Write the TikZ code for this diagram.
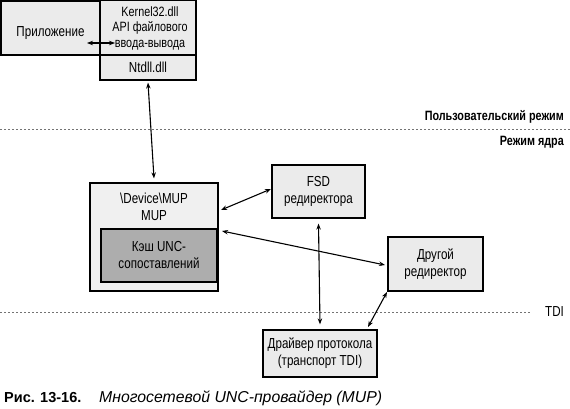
\documentclass[tikz,border=0pt]{standalone}
\usepackage{fontspec}
\setmainfont{Liberation Sans}
\newfontfamily\cond[FakeStretch=0.8]{Liberation Sans}
\usetikzlibrary{arrows.meta}
\tikzset{
  box/.style={draw=black, line width=1.2pt, fill=black!8, inner sep=0pt, align=center,
    font=\cond\fontsize{14.5}{17}\selectfont},
  darkbox/.style={box, fill=black!32},
  txt/.style={inner sep=0pt, align=center, font=\cond\fontsize{14.5}{17}\selectfont},
  modetxt/.style={inner sep=0pt, anchor=east, font=\cond\bfseries\fontsize{13.5}{15}\selectfont},
  conn/.style={line width=1.1pt, {Stealth[length=6pt,width=4.5pt]}-{Stealth[length=6pt,width=4.5pt]}},
  sep/.style={draw=black!55, line width=0.8pt, dash pattern=on 2pt off 2pt}
}
\begin{document}
\begin{tikzpicture}[x=1pt,y=-1pt]
\useasboundingbox (0,0) rectangle (570,409);
% top boxes
\node[box, minimum width=99, minimum height=54] (app) at (50.5,28) {};
\node[txt] (apptxt) at (50.5,33) {Приложение};
\node[box, minimum width=96, minimum height=55] (kern) at (148,27.5) {};
\node[txt, font=\cond\fontsize{13.5}{15.5}\selectfont] (kerntxt) at (150,28) {Kernel32.dll\\API файлового\\ввода-вывода};
\node[box, minimum width=96, minimum height=25] (ntdll) at (148,67.5) {Ntdll.dll};
\coordinate (a1) at (87,43);
\coordinate (a2) at (115,43);
\draw[conn] (a1) -- (a2);
% mode separator
\coordinate (s1) at (0,129);
\coordinate (s2) at (570,129);
\draw[sep] (s1) -- (s2);
\node[modetxt] (user) at (564,117) {Пользовательский режим};
\node[modetxt] (kernel) at (564,142) {Режим ядра};
% MUP
\node[box, fill=black!6, minimum width=128, minimum height=108] (mup) at (154,237) {};
\node[txt] (muptxt) at (154,207) {\textbackslash Device\textbackslash MUP\\MUP};
\node[darkbox, minimum width=116, minimum height=53] (cache) at (159,255.5) {Кэш UNC-\\сопоставлений};
% others
\node[box, minimum width=93, minimum height=53] (fsd) at (318.5,191.5) {FSD\\редиректора};
\node[box, minimum width=95, minimum height=54] (other) at (435.5,264) {Другой\\редиректор};
\node[box, minimum width=114, minimum height=47] (drv) at (320,353.5) {Драйвер протокола\\(транспорт TDI)};
% TDI separator
\coordinate (t1) at (0,312);
\coordinate (t2) at (530,312);
\draw[sep] (t1) -- (t2);
\node[txt, anchor=west] (tdi) at (545,312) {TDI};
% connectors
\draw[conn] ([yshift=-2]ntdll.south) -- ([yshift=4]mup.north);
\draw[conn] (221,210) -- (271,189);
\draw[conn] (222,231) -- (385,265);
\draw[conn] ([yshift=-5]fsd.south) -- ([yshift=5]drv.north);
\draw[conn] (387,292) -- (368,327);
% caption
\node[inner sep=0pt, anchor=west, font=\bfseries\fontsize{14.5}{16}\selectfont] (cap1) at (4,398) {Рис. 13-16.};
\node[inner sep=0pt, anchor=west, font=\itshape\fontsize{15.8}{17}\selectfont] (cap2) at (99,398) {Многосетевой UNC-провайдер (MUP)};
\end{tikzpicture}
\end{document}
